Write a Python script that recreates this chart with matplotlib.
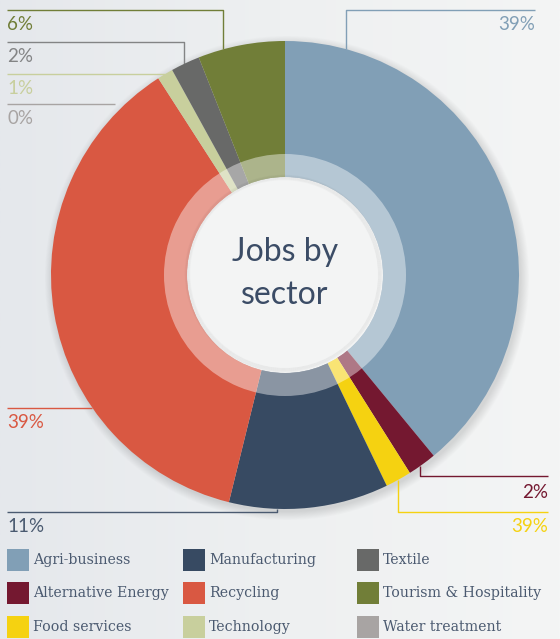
import numpy as np
import matplotlib.pyplot as plt
from matplotlib.patches import Circle, Rectangle, Wedge
from matplotlib.colors import LinearSegmentedColormap

# sectors in clockwise order, starting at 12 o'clock
sectors = ["Agri-business", "Alternative Energy", "Food services", "Manufacturing",
           "Recycling", "Water treatment", "Technology", "Textile",
           "Tourism & Hospitality"]
shares = [39, 2, 1.8, 11, 37, 0, 1.1, 2, 6]
share_labels = ["39%", "2%", "39%", "11%", "39%", "0%", "1%", "2%", "6%"]
colors = ["#819fb6", "#741830", "#f5d211", "#374a62", "#d95842",
          "#a8a4a3", "#c8cf9d", "#686968", "#717e38"]
line_colors = ["#819fb6", "#741830", "#f5d211", "#4a5a70", "#d95842",
               "#a8a4a3", "#c8cf9d", "#838485", "#717e38"]

W, H = 560, 639
CX, CY, R = 285, 275, 234
R_RING, R_HOLE = 121, 98


def rim_y(x):
    # vertical distance from centre to the donut edge at a given x
    return np.sqrt(R ** 2 - (x - CX) ** 2)


def rim_x(y):
    return np.sqrt(R ** 2 - (y - CY) ** 2)


# leader lines: (points, text anchor, alignment)
leaders = [
    ([(535, 10), (346, 10), (346, CY - rim_y(346))], (535, 25), "right"),
    ([(548, 476), (420, 476), (420, CY + rim_y(420))], (548, 492), "right"),
    ([(548, 512), (398, 512), (398, CY + rim_y(398))], (548, 527), "right"),
    ([(7, 512), (277, 512), (277, 509)], (7, 526), "left"),
    ([(7, 408), (CX - rim_x(408), 408)], (7, 422), "left"),
    ([(7, 104), (115, 104)], (7, 118), "left"),
    ([(7, 74), (CX - rim_x(74), 74)], (7, 88), "left"),
    ([(7, 42), (184, 42), (184, CY - rim_y(184))], (7, 56), "left"),
    ([(7, 10), (223, 10), (223, CY - rim_y(223))], (7, 25), "left"),
]

fig = plt.figure(figsize=(W / 100, H / 100), dpi=100)
ax = fig.add_axes([0, 0, 1, 1])

# soft grey background, lighter to the right
bg = LinearSegmentedColormap.from_list("bg", ["#e5e8ec", "#eef0f1", "#f4f5f5"])
grad = np.linspace(0, 1, 256).reshape(1, -1)
ax.imshow(grad, cmap=bg, extent=[0, W, H, 0], aspect="auto", zorder=0)

# drop shadow under the donut
for i in range(10):
    ax.add_patch(Circle((CX + 2, CY + 3), R + i * 0.9, color="k", alpha=0.012,
                        lw=0, zorder=1))

wedges, _ = ax.pie(shares, colors=colors, startangle=-90, counterclock=True,
                   center=(CX, CY), radius=R, frame=True,
                   wedgeprops=dict(linewidth=0))
for w in wedges:
    w.set_zorder(2)

# translucent inner ring and the hole
ax.add_patch(Wedge((CX, CY), R_RING, 0, 360, width=R_RING - R_HOLE,
                   color="white", alpha=0.42, lw=0, zorder=3))
ax.add_patch(Circle((CX, CY), R_HOLE, color="#f3f4f4", lw=0, zorder=4))
for i in range(6):
    ax.add_patch(Circle((CX - 1.5, CY - 1.5), R_HOLE - i * 0.8, fill=False,
                        ec="k", lw=1.2, alpha=0.02, zorder=5))
ax.add_patch(Circle((CX, CY), R_HOLE - 5, color="#f3f4f4", lw=0, zorder=5))

ax.text(CX, 252, "Jobs by", ha="center", va="center", fontsize=23,
        family="Lato", color="#3b4c66", zorder=6)
ax.text(CX, 295, "sector", ha="center", va="center", fontsize=23,
        family="Lato", color="#3b4c66", zorder=6)

# leader lines and percentage labels
for (pts, (tx, ty), ha), lab, lc in zip(leaders, share_labels, line_colors):
    xs, ys = zip(*pts)
    ax.plot(xs, ys, color=lc, lw=1.0, zorder=1.5, solid_capstyle="butt")
    ax.text(tx, ty, lab, ha=ha, va="center", fontsize=13.5, family="Lato",
            color=lc, zorder=6)

# legend, alphabetical, filled column by column
order = sorted(range(len(sectors)), key=lambda k: sectors[k])
col_x = [7, 183, 357]
row_y = [560, 593, 627]
for n, k in enumerate(order):
    x0 = col_x[n // 3]
    y0 = row_y[n % 3]
    ax.add_patch(Rectangle((x0, y0 - 11), 22, 22, color=colors[k], lw=0, zorder=6))
    ax.text(x0 + 26, y0, sectors[k], ha="left", va="center", fontsize=10.2,
            family="DejaVu Serif", color="#4b5a70", zorder=6)

ax.set_xlim(0, W)
ax.set_ylim(H, 0)
ax.set_aspect("auto")
ax.axis("off")

fig.savefig("out.png", dpi=100)
